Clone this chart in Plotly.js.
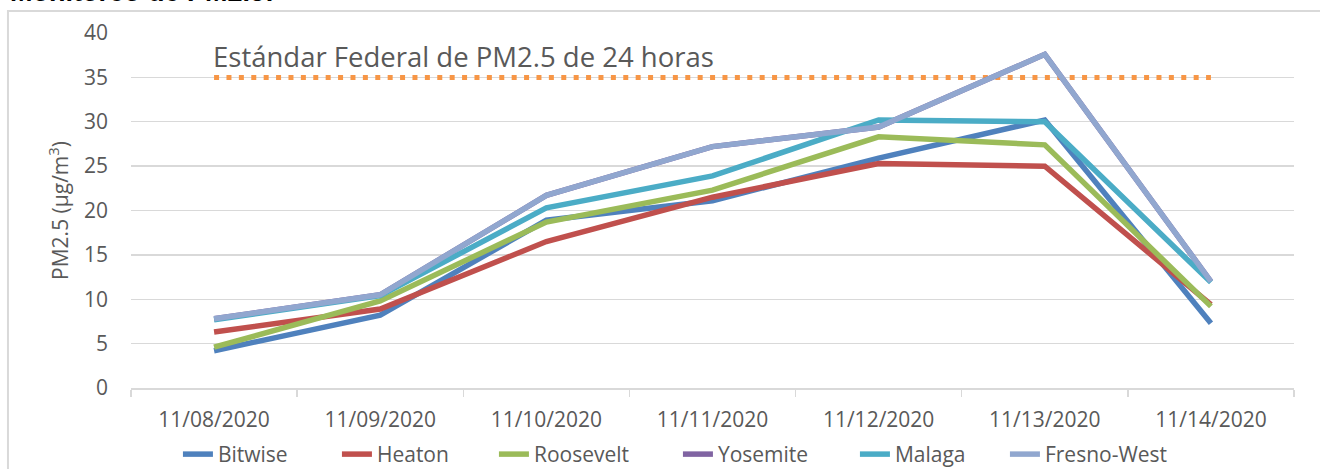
<!DOCTYPE html>
<html>
<head>
<meta charset="utf-8">
<script src="https://cdn.plot.ly/plotly-3.0.1.min.js"></script>
<style>
  html, body { margin: 0; padding: 0; background: #ffffff; }
  #chart { width: 1320px; height: 469px; }
</style>
</head>
<body>
<div id="chart"></div>
<script>
const dates = ["11/08/2020", "11/09/2020", "11/10/2020", "11/11/2020", "11/12/2020", "11/13/2020", "11/14/2020"];

const bitwise    = [4.2, 8.2, 18.9, 21.1, 25.9, 30.2, 7.3];
const heaton     = [6.3, 8.9, 16.5, 21.5, 25.3, 25.0, 9.4];
const roosevelt  = [4.6, 9.8, 18.7, 22.3, 28.3, 27.4, 9.2];
const yosemite   = [7.8, 10.5, 21.7, 27.2, 29.4, 37.6, 12.0];
const malaga     = [7.7, 10.4, 20.3, 23.9, 30.2, 30.0, 11.9];
const fresnoWest = [7.8, 10.5, 21.7, 27.2, 29.4, 37.6, 12.0];
const standard   = [35, 35, 35, 35, 35, 35, 35];

const seriesNames = ["Bitwise", "Heaton", "Roosevelt", "Yosemite", "Malaga", "Fresno-West"];
const seriesData = [bitwise, heaton, roosevelt, yosemite, malaga, fresnoWest];
const seriesColors = ["#4F81BD", "#C0504D", "#9BBB59", "#8064A2", "#4BACC6", "#91A7CF"];
const legendWidths = [114, 112, 139, 132, 105, 123];

const titleText = "Monitoreo de PM2.5:";
const standardLabel = "Estándar Federal de PM2.5 de 24 horas";

const FONT = "Open Sans, Liberation Sans, Arial, sans-serif";
const GREY = "#595959";

const traces = [{
  x: dates, y: standard, type: "scatter", mode: "lines",
  line: { color: "#F79646", width: 5, dash: "5px,7.4px" },
  showlegend: false, hoverinfo: "skip"
}];
seriesNames.forEach((name, i) => {
  traces.push({
    x: dates, y: seriesData[i], name: name, type: "scatter", mode: "lines",
    line: { color: seriesColors[i], width: 5.5 },
    legendwidth: legendWidths[i]
  });
});

const layout = {
  width: 1320, height: 469,
  margin: { l: 131, r: 26, t: 33, b: 81 },
  paper_bgcolor: "#ffffff", plot_bgcolor: "#ffffff",
  font: { family: FONT, color: GREY, size: 21 },
  showlegend: true,
  legend: {
    orientation: "h", xref: "container", yref: "container",
    x: 0.1348, xanchor: "left", y: 0.031, yanchor: "middle",
    font: { family: FONT, size: 21, color: GREY }, itemwidth: 30, tracegroupgap: 0,
    bgcolor: "rgba(0,0,0,0)"
  },
  xaxis: {
    type: "category", range: [-0.5, 6.5], automargin: false,
    showgrid: false, zeroline: false,
    showline: true, linecolor: "#D9D9D9", linewidth: 1.5,
    ticks: "outside", tickson: "boundaries", ticklen: 7, tickwidth: 1.5, tickcolor: "#D9D9D9",
    tickfont: { family: FONT, size: 21, color: GREY },
    ticklabelstandoff: 12,
    fixedrange: true
  },
  yaxis: {
    range: [0, 40], dtick: 5, tick0: 0, automargin: false,
    showgrid: true, gridcolor: "#D9D9D9", gridwidth: 1.3,
    zeroline: false, showline: false, ticks: "",
    tickfont: { family: FONT, size: 21, color: GREY },
    ticklabelstandoff: 22,
    title: { text: "PM2.5 (µg/m<sup>3</sup>)", font: { family: FONT, size: 21, color: GREY }, standoff: 9 },
    fixedrange: true
  },
  annotations: [
    {
      text: standardLabel, xref: "paper", x: 0.0688, xanchor: "left",
      yref: "y", y: 35, yanchor: "bottom", yshift: 0,
      showarrow: false, font: { family: FONT, size: 27.5, color: GREY }
    },
    {
      text: "<b>" + titleText + "</b>", xref: "paper", x: -0.1055, xanchor: "left",
      yref: "paper", y: 1.0676, yanchor: "bottom",
      showarrow: false, font: { family: "Liberation Sans, Arial, sans-serif", size: 27, color: "#000000" }
    }
  ],
  shapes: [{
    type: "rect", xref: "paper", yref: "paper",
    x0: -0.1058, x1: 1.1, y0: -0.3, y1: 1.062,
    line: { color: "#D9D9D9", width: 2 }, fillcolor: "rgba(0,0,0,0)", layer: "below"
  }]
};

Plotly.newPlot("chart", traces, layout, { staticPlot: true, displayModeBar: false });
</script>
</body>
</html>
